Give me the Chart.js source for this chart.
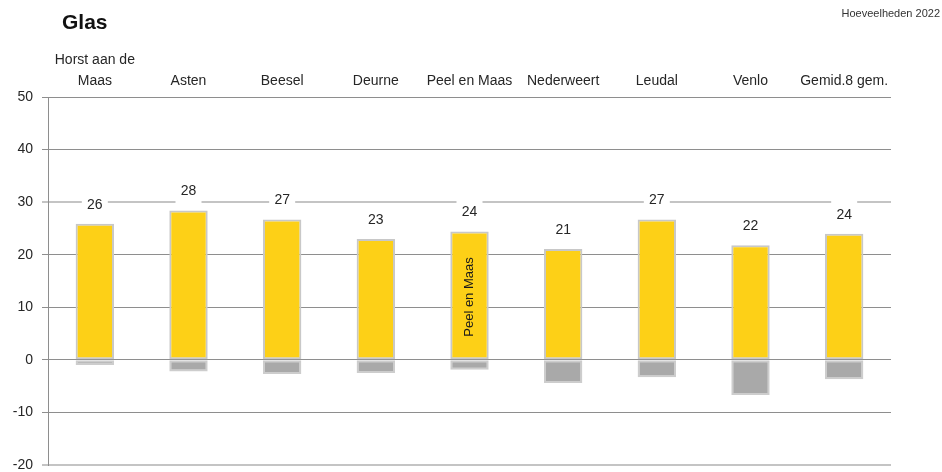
<!DOCTYPE html>
<html>
<head>
<meta charset="utf-8">
<script src="https://cdn.jsdelivr.net/npm/chart.js@4"></script>
<style>
  html, body { margin:0; padding:0; background:#fff; }
  #wrap { width:942px; height:472px; position:relative; }
</style>
</head>
<body>
<div id="wrap"><canvas id="c" width="942" height="472"></canvas></div>
<script>
// Glas — hoeveelheden 2022 per gemeente
const categories = [["Horst aan de","Maas"], "Asten", "Beesel", "Deurne", "Peel en Maas", "Nederweert", "Leudal", "Venlo", "Gemid.8 gem."];
const glasKg = [25.9, 28.4, 26.7, 23.0, 24.4, 21.1, 26.7, 21.8, 24.0];
const restKg = [-1.0, -2.2, -2.7, -2.5, -1.9, -4.4, -3.3, -6.7, -3.7];
const yMin = -20, yMax = 50, yStep = 10;
const title = "Glas";
const subTitle = "Hoeveelheden 2022";
const highlight = "Peel en Maas";

const FONT = "'Liberation Sans', Arial, sans-serif";

const labelPlugin = {
  id: "labels",
  afterDatasetsDraw(chart){
    const ctx = chart.ctx;
    const meta = chart.getDatasetMeta(0);
    ctx.save();
    ctx.font = "14px " + FONT;
    ctx.textAlign = "center";
    ctx.textBaseline = "middle";
    meta.data.forEach((bar, i)=>{
      const y = bar.y - 19;
      ctx.fillStyle = "#fff";
      ctx.fillRect(bar.x - 13, y - 14, 26, 28);
      ctx.fillStyle = "#262626";
      ctx.fillText(String(Math.round(glasKg[i])), bar.x, y);
    });
    // naam in de eigen gemeente-balk
    const idx = categories.indexOf(highlight);
    if (idx >= 0){
      const b = meta.data[idx];
      ctx.translate(b.x, 297);
      ctx.rotate(-Math.PI/2);
      ctx.font = "13px " + FONT;
      ctx.fillStyle = "#1a1a1a";
      ctx.fillText(highlight, 0, 0);
    }
    ctx.restore();
  },
  afterDraw(chart){
    const ctx = chart.ctx;
    ctx.save();
    ctx.fillStyle = "#111";
    ctx.font = "bold 21px " + FONT;
    ctx.textBaseline = "middle";
    ctx.textAlign = "left";
    ctx.fillText(title, 62, 23);
    ctx.font = "11px " + FONT;
    ctx.textAlign = "right";
    ctx.fillStyle = "#333";
    ctx.fillText(subTitle, 940, 14);
    ctx.restore();
  }
};

new Chart(document.getElementById("c").getContext("2d"), {
  type: "bar",
  data: {
    labels: categories,
    datasets: [
      { label:"Glas", data: glasKg, backgroundColor:"#fdd017", borderColor:"#c8c8c8", borderWidth:2, borderSkipped:false, stack:"s" },
      { label:"Rest", data: restKg, backgroundColor:"#a9a9a9", borderColor:"#cdcdcd", borderWidth:2, borderSkipped:false, stack:"s" },
    ]
  },
  options: {
    responsive: false,
    animation: false,
    layout: { autoPadding: false, padding: { left:0, right:51, top:0, bottom:7 } },
    plugins: { legend:{ display:false }, tooltip:{ enabled:false } },
    datasets: { bar: { categoryPercentage: 1, barPercentage: 0.41 } },
    scales: {
      x: {
        position: "top",
        stacked: true,
        grid: { display:false },
        border: { display:false },
        ticks: { color:"#262626", font:{ family:FONT, size:14, lineHeight:1.5 }, padding:-3, maxRotation:0, autoSkip:false },
        afterFit(scale){ scale.height = 97; }
      },
      y: {
        stacked: true,
        min: yMin, max: yMax,
        ticks: { stepSize: yStep, color:"#262626", font:{ family:FONT, size:14 }, padding:9 },
        grid: {
          tickLength: 6,
          color: (c)=> (c.tick && (c.tick.value === 30 || c.tick.value === yMin)) ? "#c4c4c4" : "#8e8e8e",
          lineWidth: (c)=> (c.tick && (c.tick.value === 30 || c.tick.value === yMin)) ? 2 : 1,
        },
        border: { color:"#8e8e8e" },
        afterFit(scale){ scale.width = 48; scale.paddingTop = 0; scale.paddingBottom = 0; }
      }
    }
  },
  plugins: [labelPlugin]
});
</script>
</body>
</html>
